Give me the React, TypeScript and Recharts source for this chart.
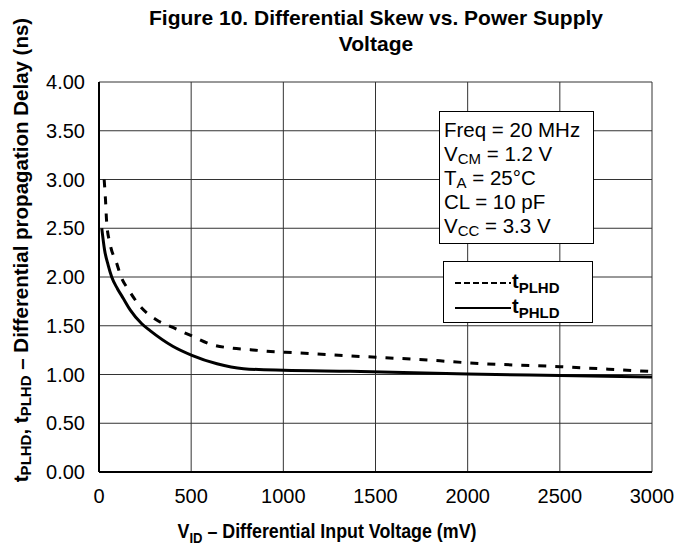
import React from 'react';
import { LineChart, Line, XAxis, YAxis, CartesianGrid, Label } from 'recharts';

const vidTicks = [0, 500, 1000, 1500, 2000, 2500, 3000];
const delayTicks = [0, 0.5, 1, 1.5, 2, 2.5, 3, 3.5, 4];

// tPLHD (dashed)
const plhdVid = [28, 35, 42, 60, 96, 120, 160, 223, 313, 404, 504, 612, 721, 821, 911, 1011, 1300, 1850, 2000, 2500, 3000];
const plhdNs = [3.0, 2.8, 2.55, 2.34, 2.14, 2.0, 1.87, 1.7, 1.56, 1.48, 1.395, 1.307, 1.27, 1.255, 1.238, 1.228, 1.197, 1.14, 1.12, 1.08, 1.03];

// tPHLD (solid)
const phldVid = [15, 30, 50, 69, 100, 132, 170, 232, 277, 400, 504, 640, 784, 1002, 1364, 2000, 2500, 3000];
const phldNs = [2.5, 2.28, 2.12, 2.0, 1.88, 1.78, 1.66, 1.52, 1.45, 1.29, 1.197, 1.11, 1.06, 1.043, 1.033, 1.005, 0.99, 0.975];

const seriesNames = ['PLHD', 'PHLD'];

const infoLines = [
  ['Freq = 20 MHz'],
  ['V', 'CM', ' = 1.2 V'],
  ['T', 'A', ' = 25°C'],
  ['CL = 10 pF'],
  ['V', 'CC', ' = 3.3 V'],
];

const plhdData = plhdVid.map((v, i) => ({ vid: v, t: plhdNs[i] }));
const phldData = phldVid.map((v, i) => ({ vid: v, t: phldNs[i] }));

const FONT = '"Liberation Sans", Arial, Helvetica, sans-serif';

function LegendBox() {
  return (
    <div
      style={{
        position: 'absolute',
        left: 443,
        top: 261,
        width: 150,
        height: 62,
        border: '1.5px solid #000',
        background: '#fff',
        boxSizing: 'border-box',
      }}
    >
      <svg width={147} height={59} style={{ display: 'block' }}>
        {seriesNames.map((name, i) => {
          const y = 21 + i * 25;
          return (
            <g key={name}>
              <line
                x1={11}
                x2={67}
                y1={y}
                y2={y}
                stroke="#000"
                strokeWidth={2}
                strokeDasharray={i === 0 ? '6 3' : undefined}
              />
              <text x={68} y={y + 5} fontFamily={FONT} fontWeight="bold" fontSize={20} fill="#000">
                t
                <tspan fontSize={15} dy={5}>{name}</tspan>
              </text>
            </g>
          );
        })}
      </svg>
    </div>
  );
}

export default function App() {
  return (
    <div style={{ position: 'absolute', left: 0, top: 0, width: 674, height: 546, background: '#fff', fontFamily: FONT }}>
      <div
        style={{
          position: 'absolute',
          left: 0,
          top: 5,
          width: 752,
          textAlign: 'center',
          fontWeight: 'bold',
          fontSize: 21,
          lineHeight: '26px',
          color: '#000',
        }}
      >
        Figure 10. Differential Skew vs. Power Supply
        <br />
        Voltage
      </div>
      <LineChart width={674} height={546} margin={{ top: 82, right: 22, bottom: 0, left: 0 }}>
        <CartesianGrid stroke="#333" strokeWidth={1} />
        <XAxis
          dataKey="vid"
          type="number"
          domain={[0, 3000]}
          ticks={vidTicks}
          height={74}
          tickSize={0}
          tickMargin={17}
          axisLine={{ stroke: '#000', strokeWidth: 2 }}
          tick={{ fill: '#000', fontSize: 20, fontFamily: FONT }}
          allowDataOverflow
        >
          <Label
            content={() => (
              <text
                x={327}
                y={538}
                textAnchor="middle"
                transform="translate(327 0) scale(0.87 1) translate(-327 0)"
                fontFamily={FONT}
                fontWeight="bold"
                fontSize={20.5}
                fill="#000"
              >
                V<tspan fontSize={15} dy={5}>ID</tspan>
                <tspan dy={-5}> – Differential Input Voltage (mV)</tspan>
              </text>
            )}
          />
        </XAxis>
        <YAxis
          type="number"
          domain={[0, 4]}
          ticks={delayTicks}
          width={99}
          tickSize={0}
          tickMargin={14}
          tickFormatter={(v: number) => v.toFixed(2)}
          axisLine={{ stroke: '#000', strokeWidth: 2 }}
          tick={{ fill: '#000', fontSize: 20, fontFamily: FONT }}
        >
          <Label
            content={() => (
              <text
                x={20}
                y={250}
                transform="rotate(-90 20 250)"
                textAnchor="middle"
                dominantBaseline="central"
                fontFamily={FONT}
                fontWeight="bold"
                fontSize={20.5}
                fill="#000"
              >
                t<tspan fontSize={15} dy={5}>PLHD</tspan>
                <tspan dy={-5}>, t</tspan>
                <tspan fontSize={15} dy={5}>PLHD</tspan>
                <tspan dy={-5}> – Differential propagation Delay (ns)</tspan>
              </text>
            )}
          />
        </YAxis>
        <Line
          data={plhdData}
          dataKey="t"
          name={seriesNames[0]}
          type="monotone"
          stroke="#000"
          strokeWidth={3}
          strokeDasharray="8 9"
          dot={false}
          isAnimationActive={false}
        />
        <Line
          data={phldData}
          dataKey="t"
          name={seriesNames[1]}
          type="monotone"
          stroke="#000"
          strokeWidth={3}
          dot={false}
          isAnimationActive={false}
        />
      </LineChart>
      <div
        style={{
          position: 'absolute',
          left: 439,
          top: 111,
          width: 155,
          height: 133,
          border: '1.5px solid #000',
          background: '#fff',
          boxSizing: 'border-box',
          padding: '6px 0 0 4px',
          fontSize: 20.5,
          color: '#000',
        }}
      >
        {infoLines.map((ln, i) => (
          <div key={i} style={{ height: 24, lineHeight: '24px', whiteSpace: 'nowrap' }}>
            {ln[0]}
            {ln.length > 1 && (
              <>
                <span style={{ fontSize: 15, lineHeight: '15px', verticalAlign: -3 }}>{ln[1]}</span>
                {ln[2]}
              </>
            )}
          </div>
        ))}
      </div>
      <LegendBox />
    </div>
  );
}
